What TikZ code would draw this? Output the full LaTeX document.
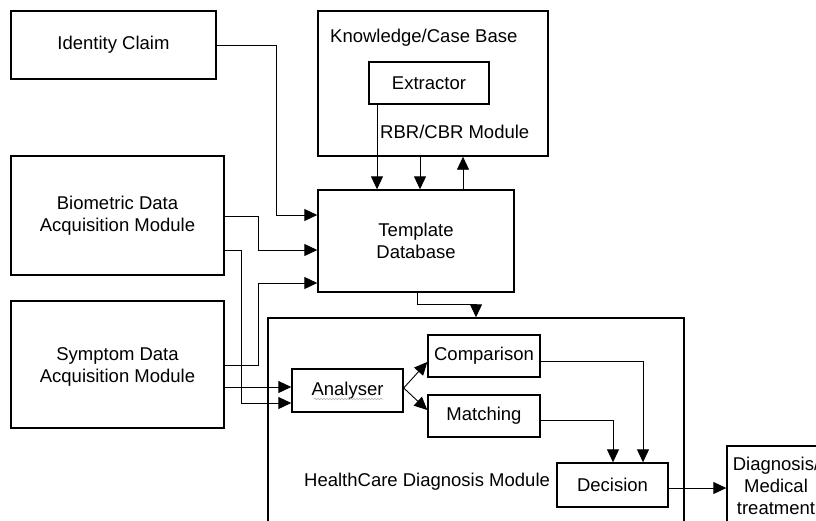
\documentclass[tikz,border=0pt]{standalone}
\usepackage{fontspec}
\setmainfont{Liberation Sans}
\usetikzlibrary{arrows.meta,decorations.pathmorphing}
\begin{document}
\begin{tikzpicture}[x=1pt,y=-1pt,
  txt/.style={inner sep=0pt,font=\fontsize{18.5}{22}\selectfont,align=center},
  box/.style={txt,draw,line width=1.4pt,rectangle},
  lbl/.style={txt,anchor=west},
  conn/.style={line width=0.9pt,-{Triangle[length=13pt,width=12pt]}},
]
\useasboundingbox (0,0) rectangle (816,520);
\clip (0,0) rectangle (816,520);
\fill[white] (0,0) rectangle (816,520);
% boxes
\node[box,minimum width=205pt,minimum height=68pt] (idc) at (113.5,45) {Identity Claim};
\node[box,minimum width=230pt,minimum height=145pt] (kb) at (433,83.5) {};
\node[lbl] (kbt) at (330,38) {Knowledge/Case Base};
\node[box,minimum width=120pt,minimum height=42pt] (ext) at (429,83) {Extractor};
\node[lbl] (rbr) at (380,132) {RBR/CBR Module};
\node[box,minimum width=196pt,minimum height=102pt] (tdb) at (416,241) {Template\\Database};
\node[box,minimum width=213pt,minimum height=119pt] (bio) at (117.5,215.5) {Biometric Data\\Acquisition Module};
\node[box,minimum width=213pt,minimum height=127pt] (sym) at (117.5,364.5) {};
\node[txt] (symt) at (117.5,367) {Symptom Data\\Acquisition Module};
\node[box,minimum width=416pt,minimum height=227pt] (hc) at (476,431.5) {};
\node[lbl] (hct) at (304,482) {HealthCare Diagnosis Module};
\node[box,minimum width=111pt,minimum height=43pt] (ana) at (347.5,390.5) {Analyser};
\node[box,minimum width=112pt,minimum height=42pt] (cmp) at (484,356) {Comparison};
\node[box,minimum width=112pt,minimum height=42pt] (mat) at (484,416) {Matching};
\node[box,minimum width=111pt,minimum height=44pt] (dec) at (612.5,485) {Decision};
\node[box,minimum width=95pt,minimum height=99pt] (dia) at (774.5,495.5) {};
\node[txt] (diat) at (776,486) {Diagnosis/\\Medical\\treatment};
% spell-check squiggle under Analyser
\draw[gray!60,line width=0.6pt,decorate,decoration={snake,amplitude=0.8pt,segment length=3pt}] (314,399) -- (383,399);
% connectors
\draw[conn] (idc.east) -| (276,215) -- (tdb.west |- 0,215);
\draw[conn] (bio.east |- 0,216) -| (258,250) -- (tdb.west |- 0,250);
\draw[conn] (bio.east |- 0,250) -| (241,403) -- (ana.west |- 0,403);
\draw[conn] (sym.east |- 0,365) -| (258,283) -- (tdb.west |- 0,283);
\draw[conn] (sym.east |- 0,387) -- (ana.west |- 0,387);
\draw[conn] (377,0 |- ext.south) -- (377,0 |- tdb.north);
\draw[conn] (420,0 |- kb.south) -- (420,0 |- tdb.north);
\draw[conn] (463,0 |- tdb.north) -- (463,0 |- kb.south);
\draw[conn] (417,0 |- tdb.south) |- (476,304) -- (476,0 |- hc.north);
\draw[conn] (ana.east |- 0,388) -- (cmp.west |- 0,362);
\draw[conn] (ana.east |- 0,388) -- (mat.west |- 0,410);
\draw[conn] (cmp.east |- 0,361) -| (643,0 |- dec.north);
\draw[conn] (mat.east |- 0,420) -| (613,0 |- dec.north);
\draw[conn] (dec.east |- 0,488) -- (dia.west |- 0,488);
\end{tikzpicture}
\end{document}
